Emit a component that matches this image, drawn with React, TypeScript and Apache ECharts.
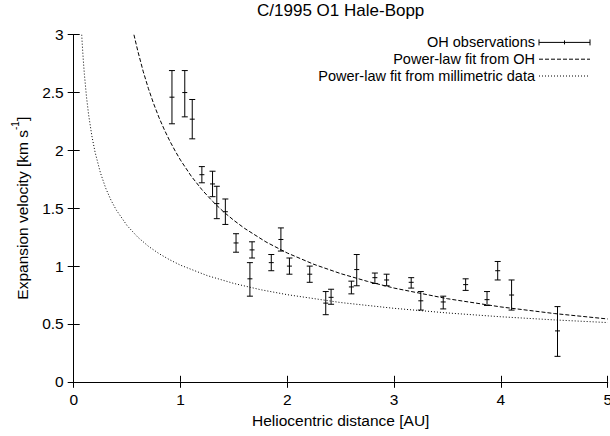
import React, { useEffect, useRef } from "react";
import * as echarts from "echarts";

// OH observations: heliocentric distance [AU], velocity [km/s], error bar low / high
const distance = [0.92, 1.04, 1.11, 1.2, 1.3, 1.34, 1.42, 1.52, 1.65, 1.67, 1.85, 1.94, 2.02, 2.21, 2.36, 2.41, 2.6, 2.65, 2.82, 2.93, 3.16, 3.25, 3.46, 3.67, 3.87, 3.97, 4.1, 4.53];
const velocity = [2.46, 2.5, 2.27, 1.79, 1.71, 1.54, 1.47, 1.2, 0.89, 1.14, 1.03, 1.23, 1.0, 0.93, 0.68, 0.73, 0.82, 0.97, 0.9, 0.88, 0.86, 0.7, 0.69, 0.84, 0.71, 0.96, 0.75, 0.44];
const errLow = [2.23, 2.29, 2.1, 1.72, 1.6, 1.41, 1.36, 1.12, 0.74, 1.07, 0.96, 1.13, 0.93, 0.86, 0.58, 0.67, 0.76, 0.83, 0.85, 0.83, 0.81, 0.62, 0.63, 0.79, 0.66, 0.88, 0.62, 0.22];
const errHigh = [2.69, 2.69, 2.44, 1.86, 1.82, 1.69, 1.58, 1.28, 1.03, 1.21, 1.1, 1.33, 1.07, 1.0, 0.78, 0.8, 0.87, 1.1, 0.94, 0.93, 0.9, 0.78, 0.74, 0.89, 0.78, 1.04, 0.88, 0.65];

// Power-law fit from OH
const ohFitR = [0.564, 0.6, 0.65, 0.7, 0.75, 0.8, 0.85, 0.9, 0.95, 1.0, 1.1, 1.2, 1.3, 1.4, 1.5, 1.6, 1.8, 2.0, 2.25, 2.5, 2.75, 3.0, 3.5, 4.0, 4.5, 5.0];
const ohFitV = [3.0, 2.86, 2.685, 2.533, 2.4, 2.281, 2.176, 2.081, 1.995, 1.916, 1.778, 1.661, 1.56, 1.472, 1.395, 1.326, 1.209, 1.113, 1.015, 0.935, 0.868, 0.81, 0.718, 0.647, 0.59, 0.543];

// Power-law fit from millimetric data
const mmFitR = [0.075, 0.08, 0.09, 0.1, 0.12, 0.14, 0.17, 0.2, 0.25, 0.3, 0.35, 0.4, 0.5, 0.6, 0.7, 0.8, 0.9, 1.0, 1.25, 1.5, 1.75, 2.0, 2.5, 3.0, 3.5, 4.0, 4.5, 5.0];
const mmFitV = [3.0, 2.919, 2.778, 2.658, 2.461, 2.306, 2.125, 1.985, 1.807, 1.673, 1.568, 1.483, 1.35, 1.25, 1.171, 1.107, 1.054, 1.008, 0.918, 0.85, 0.796, 0.753, 0.685, 0.635, 0.595, 0.562, 0.535, 0.512];

const titleText = "C/1995 O1 Hale-Bopp";
const xName = "Heliocentric distance [AU]";
const legendNames = ["OH observations", "Power-law fit from OH", "Power-law fit from millimetric data"];

const FONT = '"Liberation Sans", Arial, Helvetica, sans-serif';
const FS = 15.5;

export default function App() {
  const ref = useRef<HTMLDivElement>(null);
  useEffect(() => {
    document.body.style.margin = "0";
    if (!ref.current) return;
    const chart = echarts.init(ref.current, undefined, { renderer: "svg" });

    const obsData = distance.map((d, i) => [d, velocity[i], errLow[i], errHigh[i]]);
    const ohData = ohFitR.map((r, i) => [r, ohFitV[i]]);
    const mmData = mmFitR.map((r, i) => [r, mmFitV[i]]);

    const axisCommon = {
      type: "value" as const,
      axisLine: { show: true, lineStyle: { color: "#000", width: 1 } },
      axisTick: { show: true, inside: true, length: 6, lineStyle: { color: "#000", width: 1 } },
      splitLine: { show: false },
    };
    const labelStyle = { color: "#000", fontSize: FS, fontFamily: FONT, margin: 10, hideOverlap: false };

    const st = { stroke: "#000", lineWidth: 1 };
    const legendY = [42.4, 59.2, 76.0];
    const LFS = 14.5;
    const textRight = 535;
    const sx1 = 539;
    const sx2 = 590;

    chart.setOption({
      animation: false,
      title: {
        text: titleText,
        left: 340.7,
        top: 2,
        padding: 0,
        textAlign: "center",
        textStyle: { color: "#000", fontSize: 17, fontWeight: "normal", fontFamily: FONT },
      },
      grid: { left: 73.7, right: 2.3, top: 34.7, bottom: 54.2, containLabel: false, outerBoundsMode: "none" },
      xAxis: [
        {
          ...axisCommon,
          min: 0,
          max: 5,
          interval: 1,
          position: "bottom",
          axisLabel: labelStyle,
          name: xName,
          nameLocation: "middle",
          nameGap: 31,
          nameTextStyle: { color: "#000", fontSize: FS, fontFamily: FONT },
        },
        {
          ...axisCommon,
          min: 0,
          max: 5,
          interval: 1,
          position: "top",
          axisLabel: { show: false },
        },
      ],
      yAxis: [
        {
          ...axisCommon,
          min: 0,
          max: 3,
          interval: 0.5,
          position: "left",
          axisLabel: labelStyle,
          name: "{a|Expansion velocity [km s}{b|-1}{a|]}",
          nameLocation: "middle",
          nameRotate: 90,
          nameGap: 43,
          nameTextStyle: {
            color: "#000",
            fontFamily: FONT,
            rich: {
              a: { fontSize: FS, fontFamily: FONT, color: "#000", lineHeight: 20, verticalAlign: "bottom" },
              b: { fontSize: 10, fontFamily: FONT, color: "#000", lineHeight: 20, verticalAlign: "top" },
            },
          },
        },
        {
          ...axisCommon,
          min: 0,
          max: 3,
          interval: 0.5,
          position: "right",
          axisLabel: { show: false },
        },
      ],
      series: [
        {
          name: legendNames[1],
          type: "line",
          data: ohData,
          showSymbol: false,
          smooth: false,
          lineStyle: { color: "#000", width: 1, type: [4, 2] },
          clip: true,
          z: 2,
        },
        {
          name: legendNames[2],
          type: "line",
          data: mmData,
          showSymbol: false,
          smooth: false,
          lineStyle: { color: "#000", width: 1, type: [1, 2] },
          clip: true,
          z: 2,
        },
        {
          name: legendNames[0],
          type: "custom",
          data: obsData,
          encode: { x: 0, y: [1, 2, 3] },
          clip: true,
          z: 3,
          renderItem: (_params: any, api: any) => {
            const x = api.value(0);
            const c = api.coord([x, api.value(1)]);
            const lo = api.coord([x, api.value(2)]);
            const hi = api.coord([x, api.value(3)]);
            const cap = 3;
            const cross = 2.5;
            return {
              type: "group",
              children: [
                { type: "line", shape: { x1: lo[0], y1: lo[1], x2: hi[0], y2: hi[1] }, style: st },
                { type: "line", shape: { x1: lo[0] - cap, y1: lo[1], x2: lo[0] + cap, y2: lo[1] }, style: st },
                { type: "line", shape: { x1: hi[0] - cap, y1: hi[1], x2: hi[0] + cap, y2: hi[1] }, style: st },
                { type: "line", shape: { x1: c[0] - cross, y1: c[1], x2: c[0] + cross, y2: c[1] }, style: st },
              ],
            };
          },
        },
      ],
      graphic: [
        ...legendNames.map((name, i) => ({
          type: "text",
          style: {
            text: name,
            x: textRight,
            y: legendY[i],
            align: "right",
            verticalAlign: "middle",
            fill: "#000",
            fontSize: LFS,
            fontFamily: FONT,
          },
        })),
        { type: "line", shape: { x1: sx1, y1: legendY[0], x2: sx2, y2: legendY[0] }, style: st },
        { type: "line", shape: { x1: sx1, y1: legendY[0] - 3, x2: sx1, y2: legendY[0] + 3 }, style: st },
        { type: "line", shape: { x1: sx2, y1: legendY[0] - 3, x2: sx2, y2: legendY[0] + 3 }, style: st },
        {
          type: "line",
          shape: { x1: (sx1 + sx2) / 2, y1: legendY[0] - 2, x2: (sx1 + sx2) / 2, y2: legendY[0] + 2 },
          style: st,
        },
        {
          type: "line",
          shape: { x1: sx1, y1: legendY[1], x2: sx2, y2: legendY[1] },
          style: { stroke: "#000", lineWidth: 1, lineDash: [4, 2] },
        },
        {
          type: "line",
          shape: { x1: sx1, y1: legendY[2], x2: sx2, y2: legendY[2] },
          style: { stroke: "#000", lineWidth: 1, lineDash: [1, 2] },
        },
      ],
    });
    return () => chart.dispose();
  }, []);
  return <div ref={ref} style={{ width: 610, height: 436 }} />;
}
